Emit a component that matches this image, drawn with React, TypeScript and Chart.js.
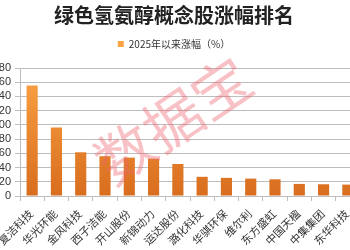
import React, { useEffect, useRef } from "react";
import { Chart, registerables } from "chart.js";

Chart.register(...registerables);

const titleText = "绿色氢氨醇概念股涨幅排名";
const seriesName = "2025年以来涨幅（%）";
const watermark = "数据宝";
const categories = [
  "复洁科技", "华光环能", "金风科技", "西子洁能", "开山股份", "新锦动力", "运达股份",
  "潞化科技", "华骐环保", "维尔利", "东方盛虹", "中国天楹", "中集集团", "东华科技",
];
const values = [155.5, 96.5, 61.5, 56, 54, 52.5, 45, 27, 25.5, 24.5, 23.5, 17, 16.5, 16];
const yMin = 0;
const yMax = 180;
const yStep = 20;

const CJK = '"Noto Sans CJK SC", "Noto Sans", sans-serif';

export default function App() {
  const ref = useRef<HTMLCanvasElement | null>(null);
  useEffect(() => {
    if (!ref.current) return;
    const watermarkPlugin = {
      id: "wm",
      afterDraw(chart: any) {
        const ctx = chart.ctx;
        ctx.save();
        ctx.translate(185, 120);
        ctx.rotate((-34 * Math.PI) / 180);
        ctx.font = `58px ${CJK}`;
        ctx.fillStyle = "rgba(238, 100, 112, 0.4)";
        ctx.textAlign = "center";
        ctx.textBaseline = "middle";
        ctx.fillText(watermark, 0, 0);
        ctx.restore();
      },
    };
    const chart = new Chart(ref.current, {
      type: "bar",
      data: {
        labels: categories,
        datasets: [
          {
            label: seriesName,
            data: values,
            backgroundColor: (c: any) => {
              const area = c.chart.chartArea;
              if (!area) return "#ee8a2c";
              const g = c.chart.ctx.createLinearGradient(0, area.top, 0, area.bottom);
              g.addColorStop(0, "#fba446");
              g.addColorStop(1, "#d86d1e");
              return g;
            },
            borderWidth: 0,
            categoryPercentage: 0.46,
            barPercentage: 1,
          },
        ],
      },
      options: {
        animation: false,
        responsive: false,
        maintainAspectRatio: false,
        layout: { padding: { left: 0, right: 8, top: 0, bottom: 0 } },
        plugins: {
          title: {
            display: true,
            text: titleText,
            color: "#222",
            font: { family: CJK, size: 20, weight: "bold" },
            padding: { top: 3, bottom: 3 },
          },
          legend: {
            display: true,
            labels: {
              color: "#333",
              font: { family: CJK, size: 10 },
              boxWidth: 6,
              boxHeight: 6,
              padding: 9,
            },
          },
          subtitle: {
            display: true,
            text: "",
            weight: 500,
            font: { size: 1, lineHeight: 1 },
            padding: { top: 4, bottom: 4 },
          } as any,
          tooltip: { enabled: false },
        },
        scales: {
          x: {
            grid: {
              drawOnChartArea: false,
              drawTicks: true,
              tickLength: 5,
              color: "#bdbdbd",
              offset: true,
            },
            border: { color: "#bdbdbd" },
            ticks: {
              color: "#333",
              font: { family: CJK, size: 11 },
              minRotation: 45,
              maxRotation: 45,
              autoSkip: false,
              padding: 6,
              labelOffset: -1,
            },
            afterFit: (s: any) => {
              s.height = 54;
            },
          },
          y: {
            min: yMin,
            max: yMax,
            grid: { color: "#bdbdbd", tickLength: 5 },
            border: { color: "#bdbdbd" },
            ticks: {
              stepSize: yStep,
              autoSkip: false,
              color: "#333",
              font: { family: '"Liberation Sans", Arial, sans-serif', size: 11 },
              padding: 4,
            },
            afterFit: (s: any) => {
              s.width = 32;
            },
          },
        },
      },
      plugins: [watermarkPlugin],
    });
    return () => chart.destroy();
  }, []);
  return (
    <div
      style={{
        position: "fixed",
        left: 0,
        top: 0,
        width: 350,
        height: 250,
        overflow: "hidden",
        background: "#fff",
      }}
    >
      <canvas
        ref={ref}
        width={380}
        height={250}
        style={{ position: "absolute", left: -12, top: 0, width: 380, height: 250 }}
      />
    </div>
  );
}
